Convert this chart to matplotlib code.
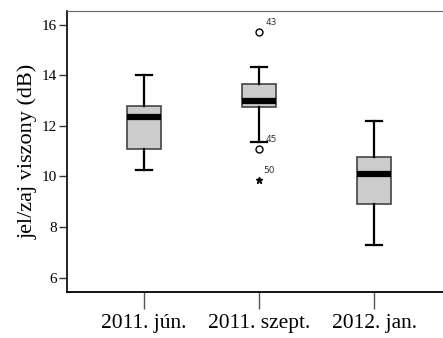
import matplotlib
matplotlib.use("Agg")
import matplotlib.pyplot as plt

# values (dB)
groups = ["2011. jún.", "2011. szept.", "2012. jan."]
whisker_low = [10.26, 11.38, 7.27]
q1 = [11.09, 12.74, 8.93]
median = [12.35, 13.00, 10.08]
q3 = [12.77, 13.65, 10.75]
whisker_high = [14.02, 14.34, 12.20]

# outliers: (group index, value, case label)
outlier_group = [1, 1]
outlier_value = [15.70, 11.10]
outlier_label = ["43", "45"]
extreme_group = [1]
extreme_value = [9.87]
extreme_label = ["50"]

plt.rcParams['font.family'] = ['Liberation Serif', 'DejaVu Serif']

fig = plt.figure(figsize=(4.43, 3.38), dpi=100)
ax = fig.add_axes([0.151, 0.136, 0.849, 0.832])

stats = []
for i, g in enumerate(groups):
    stats.append({
        'label': g,
        'whislo': whisker_low[i],
        'q1': q1[i],
        'med': median[i],
        'q3': q3[i],
        'whishi': whisker_high[i],
        'fliers': [],
    })

ax.bxp(stats, positions=[1, 2, 3], widths=0.29, patch_artist=True,
       showfliers=False,
       boxprops=dict(facecolor='#cccccc', edgecolor='#444444', linewidth=1.2),
       medianprops=dict(color='black', linewidth=4.5, solid_capstyle='butt'),
       whiskerprops=dict(color='black', linewidth=1.6),
       capprops=dict(color='black', linewidth=1.6),
       capwidths=0.14)

# mild outliers (circles) and extremes (stars)
ox = [g + 1 for g in outlier_group]
ax.plot(ox, outlier_value, 'o', mfc='white', mec='black', ms=5, mew=1.0)
for x, v, lab in zip(ox, outlier_value, outlier_label):
    ax.annotate(lab, (x, v), xytext=(5, 5), textcoords='offset points',
                fontsize=6.5, family='DejaVu Sans', color='#333333')

ex = [g + 1 for g in extreme_group]
ax.plot(ex, extreme_value, '*', color='black', ms=4.5)
for x, v, lab in zip(ex, extreme_value, extreme_label):
    ax.annotate(lab, (x, v), xytext=(3, 5), textcoords='offset points',
                fontsize=6.5, family='DejaVu Sans', color='#333333')

ax.set_xlim(0.328, 3.6)
ax.set_ylim(5.43, 16.55)
ax.set_yticks([6, 8, 10, 12, 14, 16])
ax.set_xticks([1, 2, 3])
ax.set_xticklabels(groups, fontsize=15.5)
ax.tick_params(axis='y', labelsize=11, length=5.8, width=1, color='#333333', pad=1.5)
ax.tick_params(axis='x', length=12, width=1, color='#555555', pad=4)
ax.set_ylabel("jel/zaj viszony (dB)", fontsize=16, labelpad=3)

ax.spines['right'].set_visible(False)
ax.spines['top'].set_color('#666666')
ax.spines['left'].set_linewidth(1.2)
ax.spines['bottom'].set_linewidth(1.3)

fig.savefig("out.png", dpi=100)
